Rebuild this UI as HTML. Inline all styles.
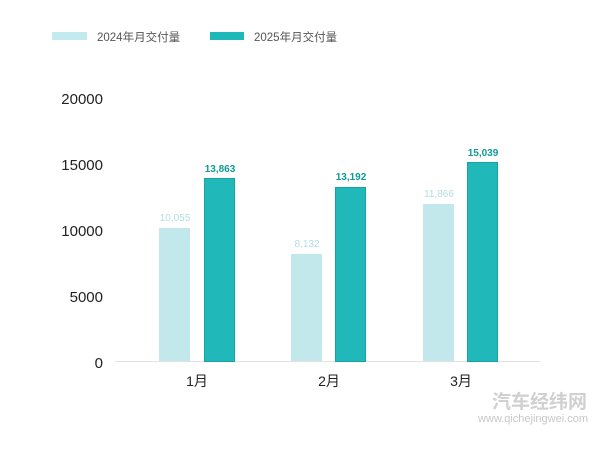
<!DOCTYPE html><html><head><meta charset="utf-8"><style>body{margin:0;background:#fff}</style></head><body>
<svg width="600" height="446" xmlns="http://www.w3.org/2000/svg" font-family="Liberation Sans, Noto Sans CJK SC, sans-serif">
<rect width="600" height="446" fill="#fff"/>
<rect x="52" y="32" width="35" height="8" fill="#c2eaef"/>
<text x="97" y="41" font-size="11.5" fill="#555">2024年月交付量</text>
<rect x="210" y="32" width="34" height="8" fill="#1fb8b8"/>
<text x="254" y="41" font-size="11.5" fill="#555">2025年月交付量</text>
<g font-size="15" fill="#222" text-anchor="end">
<text x="103" y="104">20000</text><text x="103" y="170">15000</text><text x="103" y="236">10000</text><text x="103" y="302">5000</text><text x="103" y="368">0</text></g>
<line x1="115" y1="361.5" x2="540" y2="361.5" stroke="#e2e2e2"/>
<g fill="#c2e8ec"><rect x="159" y="228" width="31" height="133"/><rect x="291" y="254" width="31" height="107"/><rect x="423" y="204" width="31" height="157"/></g>
<g fill="#20b8b8" stroke="#17a3a1"><rect x="204.5" y="178.5" width="30" height="183"/><rect x="335.5" y="187.5" width="30" height="174"/><rect x="467.5" y="162.5" width="30" height="199"/></g>
<g font-size="10" fill="#b4dde1" text-anchor="middle"><text x="175" y="221">10,055</text><text x="307" y="247">8,132</text><text x="439" y="197">11,866</text></g>
<g font-size="10" font-weight="bold" fill="#0f9a98" text-anchor="middle"><text x="220" y="172">13,863</text><text x="351" y="180">13,192</text><text x="483" y="156">15,039</text></g>
<g font-size="14" fill="#222" text-anchor="middle"><text x="197" y="386">1月</text><text x="329" y="386">2月</text><text x="461" y="386">3月</text></g>
<text x="587" y="408" font-size="19" font-weight="bold" fill="#d0d0d0" text-anchor="end">汽车经纬网</text>
<text x="588" y="422" font-size="11" fill="#c8c8c8" text-anchor="end">www.qichejingwei.com</text>
</svg></body></html>
